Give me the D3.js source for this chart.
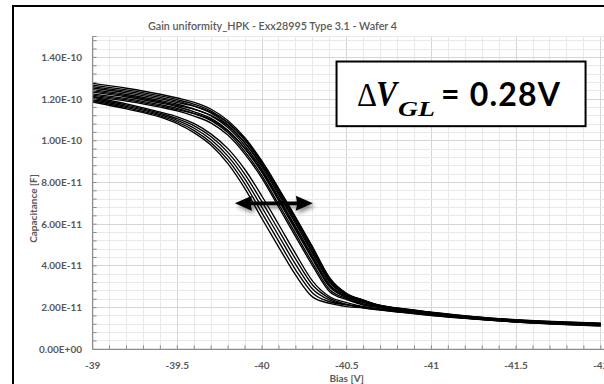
<!DOCTYPE html>
<html><head><meta charset="utf-8">
<script src="https://cdn.jsdelivr.net/npm/d3@7/dist/d3.min.js"></script>
<style>body{margin:0;background:#fff;overflow:hidden}</style>
</head><body>
<svg id="chart" width="604" height="384"></svg>
<script>
// ---------------- data ----------------
const chartTitle = "Gain uniformity_HPK - Exx28995 Type 3.1 - Wafer 4";
const xTitle = "Bias [V]";
const yTitle = "Capacitance [F]";
const annotationText = "= 0.28V";

const xTickValues = [-39, -39.5, -40, -40.5, -41, -41.5, -42];
const yTickValues = [0, 2e-11, 4e-11, 6e-11, 8e-11, 1e-10, 1.2e-10, 1.4e-10];

// bias points (V)
const biasV = [-39.0, -39.2, -39.4, -39.5, -39.6, -39.7, -39.8, -39.9, -40.0, -40.1, -40.2,
               -40.3, -40.4, -40.5, -40.6, -40.7, -40.8, -41.0, -41.25, -41.5, -41.75, -42.0];
const CAP_UNIT = 1e-11; // capacitance series below are in units of 1e-11 F

// right (late) group
const capR1  = [12.75,12.52,12.23,12.05,11.84,11.51,10.96,10.13,9.02,7.70,6.32,4.89,3.42,2.67,2.36,2.09,1.96,1.76,1.55,1.40,1.30,1.23];
const capR2  = [12.67,12.44,12.15,11.97,11.75,11.42,10.86,10.02,8.90,7.57,6.18,4.76,3.32,2.63,2.35,2.10,1.97,1.77,1.56,1.41,1.31,1.24];
const capR3  = [12.60,12.37,12.08,11.90,11.66,11.32,10.75,9.88,8.74,7.39,6.00,4.58,3.20,2.57,2.28,2.07,1.94,1.74,1.53,1.38,1.28,1.21];
const capR4  = [12.53,12.30,12.01,11.83,11.66,11.36,10.85,10.05,8.98,7.66,6.27,4.85,3.39,2.66,2.34,2.08,1.95,1.75,1.54,1.39,1.29,1.22];
const capR5  = [12.45,12.22,11.93,11.75,11.52,11.19,10.62,9.75,8.62,7.26,5.86,4.45,3.10,2.53,2.24,2.05,1.92,1.72,1.51,1.36,1.26,1.19];
const capR6  = [12.39,12.16,11.87,11.69,11.51,11.22,10.71,9.90,8.82,7.48,6.09,4.67,3.26,2.60,2.26,2.03,1.90,1.70,1.49,1.34,1.24,1.17];
const capR7  = [12.33,12.10,11.81,11.63,11.39,11.07,10.49,9.61,8.47,7.10,5.69,4.29,2.98,2.48,2.18,2.02,1.89,1.69,1.48,1.33,1.23,1.16];
const capR8  = [12.25,12.02,11.73,11.55,11.30,10.97,10.38,9.47,8.32,6.93,5.52,4.12,2.86,2.43,2.13,2.00,1.87,1.67,1.46,1.31,1.21,1.14];
const capR9  = [12.19,11.96,11.67,11.49,11.30,11.01,10.47,9.63,8.54,7.17,5.77,4.36,3.04,2.50,2.28,2.11,1.98,1.78,1.57,1.42,1.32,1.25];
const capR10 = [12.13,11.90,11.61,11.43,11.18,10.85,10.26,9.35,8.20,6.80,5.38,3.99,2.76,2.38,2.12,2.01,1.88,1.68,1.47,1.32,1.22,1.15];
// left (early) group
const capL1  = [12.10,11.77,11.37,11.15,10.82,10.32,9.61,8.61,7.34,5.96,4.56,3.26,2.52,2.24,2.04,1.94,1.85,1.68,1.51,1.37,1.26,1.18];
const capL2  = [12.04,11.71,11.31,11.06,10.71,10.19,9.43,8.38,7.07,5.69,4.31,3.07,2.44,2.15,1.99,1.89,1.80,1.63,1.46,1.32,1.21,1.13];
const capL3  = [11.98,11.65,11.25,10.98,10.60,10.05,9.25,8.15,6.80,5.42,4.05,2.88,2.36,2.14,2.01,1.91,1.82,1.65,1.48,1.34,1.23,1.15];
const capL4  = [11.92,11.59,11.19,10.90,10.49,9.91,9.07,7.92,6.53,5.15,3.79,2.69,2.28,2.13,2.03,1.93,1.84,1.67,1.50,1.36,1.25,1.17];
const capL5  = [11.86,11.53,11.13,10.82,10.38,9.78,8.89,7.69,6.26,4.88,3.54,2.50,2.20,2.05,1.98,1.88,1.79,1.62,1.45,1.31,1.20,1.12];

const allSeries = [capR1,capR2,capR3,capR4,capR5,capR6,capR7,capR8,capR9,capR10,capL1,capL2,capL3,capL4,capL5];

// ---------------- drawing ----------------
const svg = d3.select("#chart");
const W = 604, H = 384;
const plot = {left: 92.6, right: 600.8, top: 36.5, bottom: 349.3};

const x = d3.scaleLinear().domain([-39, -42]).range([plot.left, plot.right]);
const y = d3.scaleLinear().domain([0, 1.5e-10]).range([plot.bottom, plot.top]);

svg.append("rect").attr("width", W).attr("height", H).attr("fill", "#fff");

const defs = svg.append("defs");
defs.append("clipPath").attr("id", "clip").append("rect")
  .attr("x", plot.left).attr("y", plot.top - 2)
  .attr("width", plot.right - plot.left + 4).attr("height", plot.bottom - plot.top + 2);
const f = defs.append("filter").attr("id", "shadow").attr("x", "-30%").attr("y", "-100%").attr("width", "160%").attr("height", "300%");
f.append("feDropShadow").attr("dx", 2).attr("dy", 3).attr("stdDeviation", 2)
  .attr("flood-color", "#000").attr("flood-opacity", 0.45);

// gridlines
const xMinor = d3.range(1, 31).map(k => -39 - k * 0.1);
const yMinor = d3.range(1, 38).map(k => k * 0.4e-11);
const isMajorX = v => Math.abs(Math.round(v * 2) - v * 2) < 1e-6;
const isMajorY = v => Math.abs(Math.round(v / 2e-11) - v / 2e-11) < 1e-6;

const grid = svg.append("g");
grid.selectAll("line.vx").data(xMinor).join("line")
  .attr("x1", d => x(d)).attr("x2", d => x(d))
  .attr("y1", plot.top).attr("y2", plot.bottom)
  .attr("stroke", d => isMajorX(d) ? "#d6d6d6" : "#e9e9e9").attr("stroke-width", 1)
  .attr("shape-rendering", "crispEdges");
grid.selectAll("line.hy").data(yMinor.concat([1.5e-10])).join("line")
  .attr("x1", plot.left).attr("x2", W)
  .attr("y1", d => y(d)).attr("y2", d => y(d))
  .attr("stroke", d => isMajorY(d) ? "#d6d6d6" : "#e9e9e9").attr("stroke-width", 1)
  .attr("shape-rendering", "crispEdges");

// curves
const line = d3.line()
  .x((d, i) => x(biasV[i]))
  .y(d => y(d * CAP_UNIT))
  .curve(d3.curveMonotoneX);
svg.append("g").attr("clip-path", "url(#clip)")
  .selectAll("path").data(allSeries).join("path")
  .attr("d", line).attr("fill", "none")
  .attr("stroke", "#000").attr("stroke-width", 1.35);

// axes
const axisColor = "#8c8c8c";
const xAxis = d3.axisBottom(x).tickValues([]).tickSizeOuter(0);
const gx = svg.append("g").attr("transform", `translate(0,${plot.bottom})`).call(xAxis);
gx.select(".domain").attr("stroke", axisColor).attr("stroke-width", 1.3).attr("d", `M${plot.left},0H${W}`);
gx.selectAll("line.mt").data([-39].concat(xMinor)).join("line")
  .attr("x1", d => x(d)).attr("x2", d => x(d)).attr("y1", 0).attr("y2", -4)
  .attr("stroke", axisColor).attr("stroke-width", 1);

const yAxis = d3.axisLeft(y).tickValues([]).tickSizeOuter(0);
const gy = svg.append("g").attr("transform", `translate(${plot.left},0)`).call(yAxis);
gy.select(".domain").attr("stroke", axisColor).attr("stroke-width", 1.3).attr("d", `M0,${plot.top}V${plot.bottom}`);
gy.selectAll("line.mt").data(yMinor.concat([1.5e-10])).join("line")
  .attr("y1", d => y(d)).attr("y2", d => y(d)).attr("x1", 0).attr("x2", 4)
  .attr("stroke", axisColor).attr("stroke-width", 1);

const fmtSci = d => {
  const [m, e] = d.toExponential(2).split("e");
  const n = +e;
  return m + "E" + (n < 0 ? "-" : "+") + String(Math.abs(n)).padStart(2, "0");
};
const labelColor = "#595959";
const font = "Lato, 'Open Sans', sans-serif";

svg.append("g").selectAll("text").data(yTickValues).join("text")
  .attr("x", 82).attr("y", d => y(d)).attr("dy", "0.35em")
  .attr("text-anchor", "end").attr("font-family", font).attr("font-weight", "bold")
  .attr("font-size", 10).attr("fill", labelColor).text(fmtSci);

svg.append("g").selectAll("text").data(xTickValues).join("text")
  .attr("x", d => x(d)).attr("y", 368.5)
  .attr("text-anchor", "middle").attr("font-family", font).attr("font-weight", "bold")
  .attr("font-size", 10).attr("fill", labelColor).text(d => String(d));

// titles
svg.append("text").attr("x", 272.5).attr("y", 29.5).attr("text-anchor", "middle")
  .attr("font-family", font).attr("font-weight", "600").attr("font-size", 11.5)
  .attr("fill", labelColor).attr("textLength", 249).attr("lengthAdjust", "spacingAndGlyphs")
  .text(chartTitle);
svg.append("text").attr("x", (plot.left + plot.right) / 2).attr("y", 382)
  .attr("text-anchor", "middle").attr("font-family", font).attr("font-weight", "bold")
  .attr("font-size", 10).attr("fill", labelColor).text(xTitle);
svg.append("text").attr("transform", "translate(36.5,208.5) rotate(-90)")
  .attr("text-anchor", "middle").attr("font-family", font).attr("font-weight", "bold")
  .attr("font-size", 10).attr("fill", labelColor).text(yTitle);

// double arrow annotation
const ax1 = x(-39.84), ax2 = x(-40.3), ay = y(7.0e-11);
const hl = 17, hh = 7.5, sh = 1.8;
const arrowPts = [[ax1, ay], [ax1 + hl, ay - hh], [ax1 + hl - 1, ay - sh], [ax2 - hl + 1, ay - sh], [ax2 - hl, ay - hh],
  [ax2, ay], [ax2 - hl, ay + hh], [ax2 - hl + 1, ay + sh], [ax1 + hl - 1, ay + sh], [ax1 + hl, ay + hh]];
svg.append("path").attr("d", "M" + arrowPts.map(p => p.join(",")).join("L") + "Z")
  .attr("fill", "#000").attr("filter", "url(#shadow)");

// text box annotation
const bx1 = x(-40.44), bx2 = x(-41.91), by1 = y(1.38e-10), by2 = y(1.07e-10);
svg.append("rect").attr("x", bx1).attr("y", by1).attr("width", bx2 - bx1).attr("height", by2 - by1)
  .attr("fill", "#fff").attr("stroke", "#000").attr("stroke-width", 2);
const tb = svg.append("g").attr("fill", "#000");
tb.append("text").attr("x", 357).attr("y", 106).attr("font-family", "'Liberation Serif', serif")
  .attr("font-size", 34).attr("textLength", 20).attr("lengthAdjust", "spacingAndGlyphs").text("Δ");
tb.append("text").attr("x", 376).attr("y", 106).attr("font-family", "'Liberation Serif', serif")
  .attr("font-style", "italic").attr("font-weight", "bold")
  .attr("font-size", 35).attr("textLength", 21).attr("lengthAdjust", "spacingAndGlyphs").text("V");
tb.append("text").attr("x", 398).attr("y", 116).attr("font-family", "'Liberation Serif', serif")
  .attr("font-style", "italic").attr("font-weight", "bold")
  .attr("font-size", 21).attr("textLength", 37).attr("lengthAdjust", "spacingAndGlyphs").text("GL");
tb.append("text").attr("x", 441).attr("y", 106).attr("font-family", font).attr("font-weight", "bold")
  .attr("font-size", 32).attr("textLength", 119).attr("lengthAdjust", "spacing").text(annotationText);

// outer chart frame
svg.append("rect").attr("x", 13).attr("y", 6).attr("width", 700).attr("height", 500)
  .attr("fill", "none").attr("stroke", "#000").attr("stroke-width", 2);
</script>
</body></html>
